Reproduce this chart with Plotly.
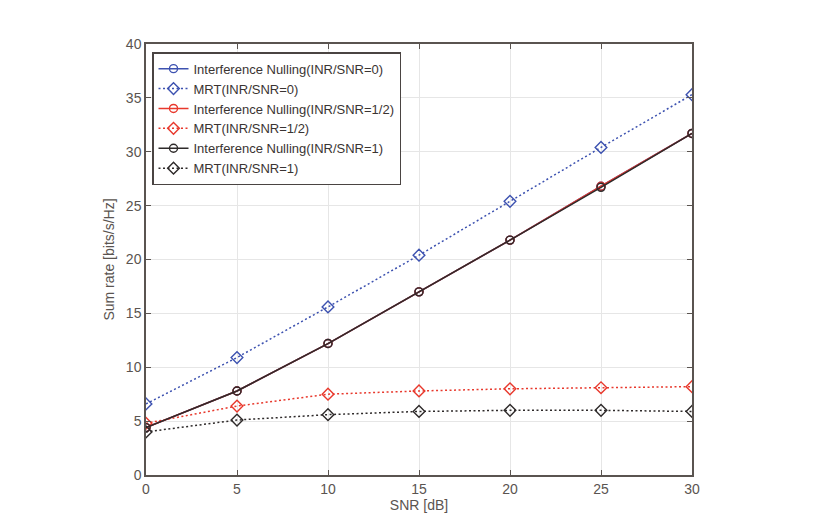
import plotly.graph_objects as go

snr = [0, 5, 10, 15, 20, 25, 30]
in_0 = [4.4, 7.8, 12.2, 17.0, 21.8, 26.8, 31.7]
mrt_0 = [6.6, 10.9, 15.6, 20.4, 25.4, 30.4, 35.3]
in_half = [4.4, 7.8, 12.2, 17.0, 21.8, 26.8, 31.7]
mrt_half = [4.8, 6.4, 7.5, 7.8, 8.0, 8.1, 8.2]
in_1 = [4.4, 7.8, 12.2, 17.0, 21.8, 26.7, 31.7]
mrt_1 = [4.0, 5.1, 5.6, 5.9, 6.0, 6.0, 5.9]

names = [
    "Interference Nulling(INR/SNR=0)",
    "MRT(INR/SNR=0)",
    "Interference Nulling(INR/SNR=1/2)",
    "MRT(INR/SNR=1/2)",
    "Interference Nulling(INR/SNR=1)",
    "MRT(INR/SNR=1)",
]

BLUE = "#3d52b0"
RED = "#e8382c"
BLACK = "#2e2a2a"

series = [
    (in_0, BLUE, "solid", "circle-open"),
    (mrt_0, BLUE, "2px,2.5px", "diamond-open"),
    (in_half, RED, "solid", "circle-open"),
    (mrt_half, RED, "2px,2.5px", "diamond-open"),
    (in_1, BLACK, "solid", "circle-open"),
    (mrt_1, BLACK, "2px,2.5px", "diamond-open"),
]

fig = go.Figure()
for (ys, col, dash, sym), nm in zip(series, names):
    fig.add_trace(go.Scatter(
        x=snr, y=ys, name=nm, mode="lines+markers",
        line=dict(color=col, dash=dash, width=1.5),
        marker=dict(symbol=sym, size=8 if sym == "circle-open" else 9,
                    color=col, line=dict(width=1.4, color=col)),
    ))

FONT = "Liberation Sans, Arial, sans-serif"
axis_common = dict(
    showgrid=True, gridcolor="#e6e6e6", gridwidth=1,
    showline=True, linecolor="#5a5450", linewidth=1.5, mirror="ticks",
    ticks="inside", ticklen=5, tickcolor="#5a5450", tickwidth=1,
    zeroline=False,
    tickfont=dict(family=FONT, size=14, color="#5a5450"),
    title_font=dict(family=FONT, size=14, color="#5a5450"),
)

fig.update_xaxes(range=[0, 30], tickvals=[0, 5, 10, 15, 20, 25, 30],
                 title_text="SNR [dB]", title_standoff=3, **axis_common)
fig.update_yaxes(range=[0, 40], tickvals=[0, 5, 10, 15, 20, 25, 30, 35, 40],
                 title_text="Sum rate [bits/s/Hz]", title_standoff=8, **axis_common)

fig.update_layout(
    width=825, height=532,
    margin=dict(l=138, r=141, t=36, b=65),
    paper_bgcolor="white", plot_bgcolor="white",
    showlegend=True,
    legend=dict(
        x=0.011, y=0.981, xanchor="left", yanchor="top",
        bgcolor="white", bordercolor="#4a4442", borderwidth=1.5,
        font=dict(family=FONT, size=13, color="#3a3432"),
        tracegroupgap=0, itemwidth=30,
    ),
)

fig.write_html("out.html")
